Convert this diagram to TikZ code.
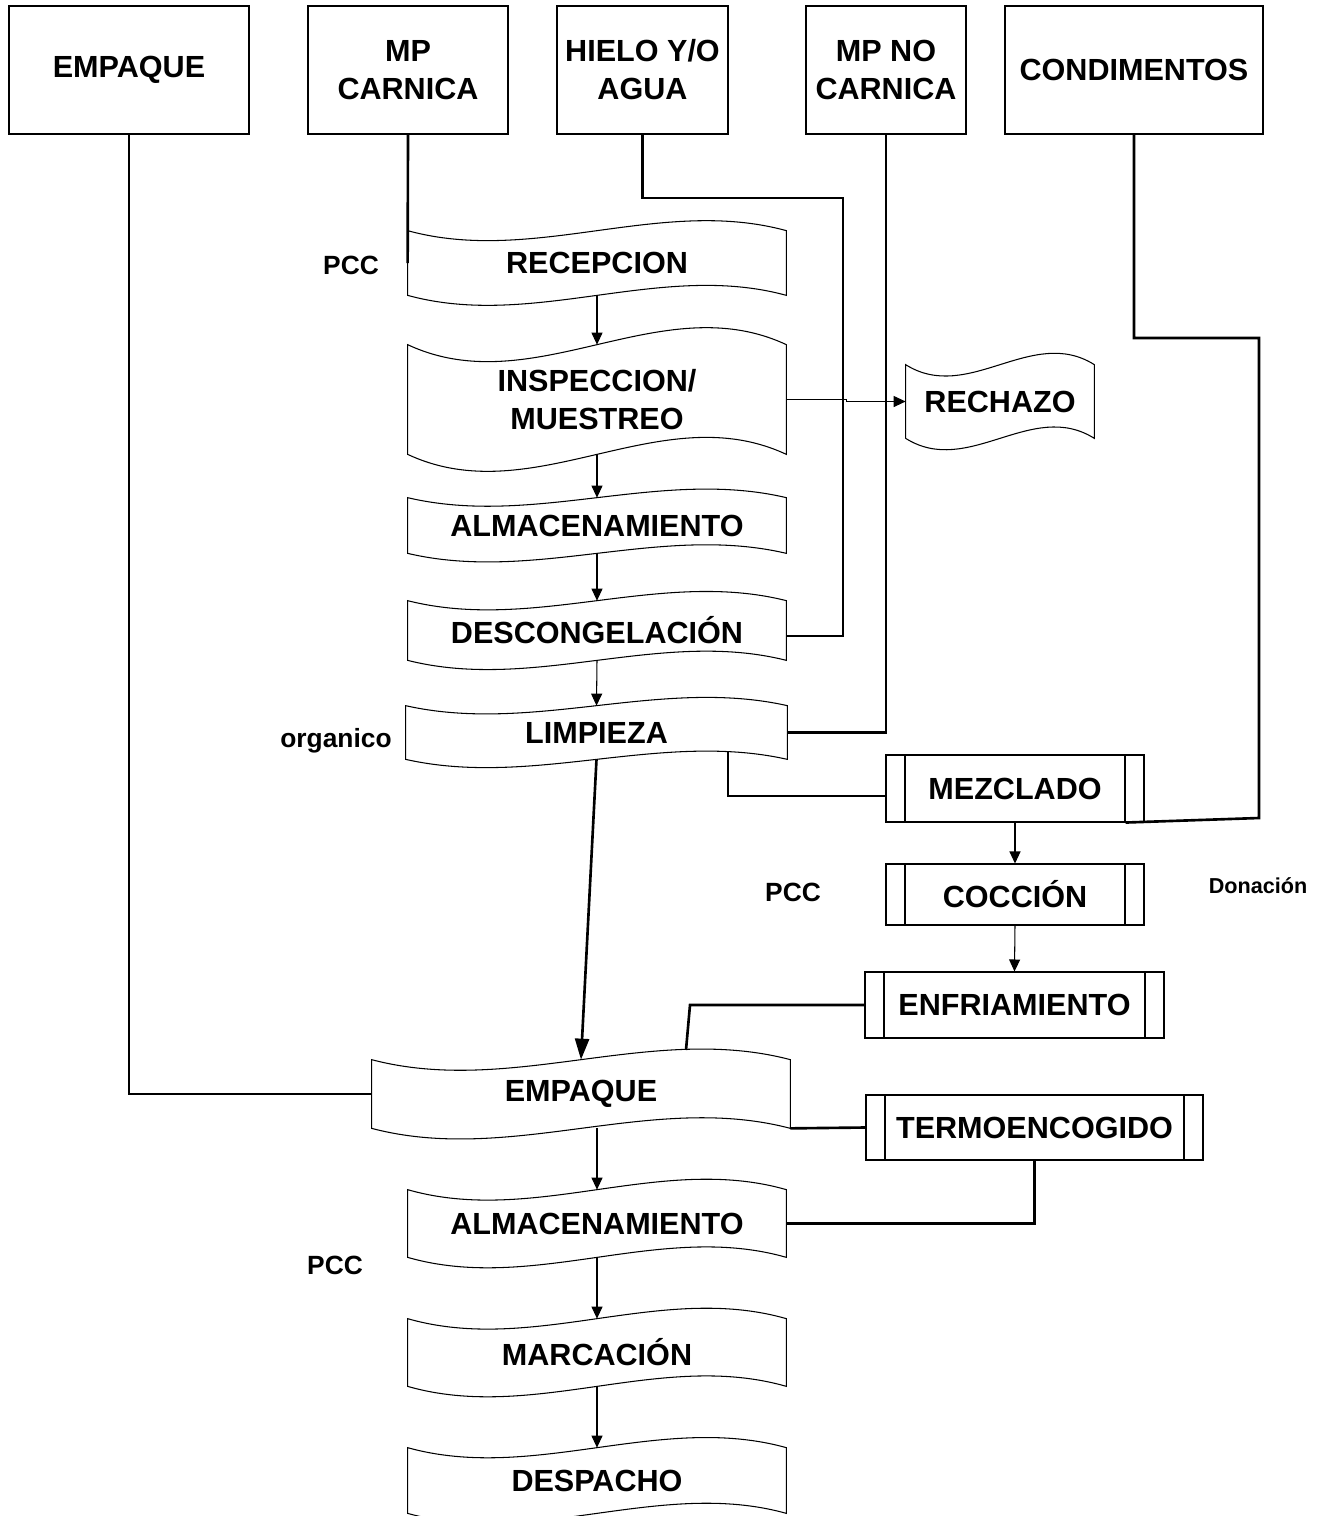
\documentclass[tikz,border=0pt]{standalone}
\usepackage{fontspec}
\setmainfont{Liberation Sans}
\usetikzlibrary{arrows.meta,calc}
\tikzset{
  big/.style={font=\bfseries\fontsize{17.4}{21.6}\selectfont, align=center, inner sep=0pt},
  small/.style={font=\bfseries\fontsize{15}{18}\selectfont, inner sep=0pt},
  tiny/.style={font=\bfseries\fontsize{12.3}{15}\selectfont, inner sep=0pt},
  topbox/.style={big, draw, line width=0.8pt, minimum height=2.56cm},
  tapetxt/.style={big},
  procbox/.style={big, draw, line width=0.6pt},
  outl/.style={line width=0.6pt},
  conn/.style={line width=1.5pt},
  thinarr/.style={line width=0.6pt, -{Triangle[length=0.24cm,width=0.22cm]}},
  thickarr/.style={line width=1.5pt, -{Triangle[length=0.42cm,width=0.28cm]}},
}
\newcommand{\tapenode}[6]{%
  \node[tapetxt, minimum width={(#4-#2)*0.02cm}, minimum height={(#5-#3)*0.02cm}] (#1) at ({(#2+#4)/2},{(#3+#5)/2}) {#6};
  \draw[outl] (#1.north west) .. controls +({(#4-#2)/3},{0.54*(#5-#3)}) and +({-(#4-#2)/3},{-0.54*(#5-#3)}) .. (#1.north east)
     -- (#1.south east) .. controls +({-(#4-#2)/3},{-0.54*(#5-#3)}) and +({(#4-#2)/3},{0.54*(#5-#3)}) .. (#1.south west) -- cycle;
}
\newcommand{\procnode}[6]{%
  \node[procbox, minimum width={(#4-#2)*0.02cm}, minimum height={(#5-#3)*0.02cm}] (#1) at ({(#2+#4)/2},{(#3+#5)/2}) {#6};
  \draw[outl] ({#2+19},#3) -- ({#2+19},#5);
  \draw[outl] ({#4-19},#3) -- ({#4-19},#5);
}
\begin{document}
\begin{tikzpicture}[x=0.02cm,y=-0.02cm]
\fill[white] (0,0) rectangle (1327,1516);
\useasboundingbox (0,0) rectangle (1327,1516);

% top boxes
\node[topbox, minimum width=4.8cm] (b1) at (129,70) {EMPAQUE};
\node[topbox, minimum width=4.0cm] (b2) at (408,70) {MP\\CARNICA};
\node[topbox, minimum width=3.42cm] (b3) at (642.5,70) {HIELO Y/O\\AGUA};
\node[topbox, minimum width=3.2cm] (b4) at (886,70) {MP NO\\CARNICA};
\node[topbox, minimum width=5.16cm] (b5) at (1134,70) {CONDIMENTOS};

% tape shapes
\tapenode{rec}{408}{231}{786}{295}{RECEPCION}
\tapenode{insp}{408}{345}{786}{454}{INSPECCION/\\MUESTREO}
\tapenode{rech}{906}{365}{1094}{438}{RECHAZO}
\tapenode{alma}{408}{498}{786}{553}{ALMACENAMIENTO}
\tapenode{desc}{408}{601}{786}{660}{DESCONGELACIÓN}
\tapenode{lim}{406}{706}{787}{759}{LIMPIEZA}
\tapenode{emp}{372}{1060}{790}{1128}{EMPAQUE}
\tapenode{almb}{408}{1190}{786}{1257}{ALMACENAMIENTO}
\tapenode{mar}{408}{1319}{786}{1386}{MARCACIÓN}
\tapenode{des}{408}{1448}{786}{1513}{DESPACHO}

% predefined process boxes
\procnode{mez}{886}{755}{1144}{822}{MEZCLADO}
\procnode{coc}{886}{864}{1144}{925}{COCCIÓN}
\procnode{enf}{865}{972}{1164}{1038}{ENFRIAMIENTO}
\procnode{ter}{866}{1095}{1203}{1160}{TERMOENCOGIDO}

% labels
\node[small] (pcc1) at (351,265) {PCC};
\node[small] (org) at (336,741) {organico};
\node[small] (pcc2) at (793,892) {PCC};
\node[tiny] (don) at (1258,886) {Donación};
\node[small] (pcc3) at (335,1265) {PCC};

% helper coordinates
\coordinate (h1) at (843,198);
\coordinate (c1) at (1259,338);
\coordinate (c2) at (1259,818);
\coordinate (l1) at (728,752);
\coordinate (e1) at (690,1005);
\coordinate (e2) at (686,1050);

% thick connectors
\draw[conn] (b1.south) |- (emp.west);
\draw[conn] (b2.south) -- (rec.west);
\draw[conn] (b3.south) |- (h1) |- ([yshift=-0.11cm]desc.east);
\draw[conn] (b4.south) |- (lim.east);
\draw[conn] (b5.south) |- (c1) -- (c2) -- ([xshift=-0.38cm]mez.south east);
\draw[conn] (l1) |- ([yshift=-0.15cm]mez.west);
\draw[conn] (enf.west) -- (e1) -- (e2);
\draw[conn] (emp.south east) -- (ter.west);
\draw[conn] (ter.south) |- (almb.east);
\draw[thickarr] (lim.south) -- (emp.north);

% thin arrows
\draw[thinarr] (rec.south) -- (insp.north);
\draw[thinarr] (insp.east) -- ++(60,0) |- (rech.west);
\draw[thinarr] (insp.south) -- (alma.north);
\draw[thinarr] (alma.south) -- (desc.north);
\draw[thinarr] (desc.south) -- (lim.north);
\draw[thinarr] (mez.south) -- (coc.north);
\draw[thinarr] (coc.south) -- (enf.north);
\draw[thinarr] (emp.south -| almb.north) -- (almb.north);
\draw[thinarr] (almb.south) -- (mar.north);
\draw[thinarr] (mar.south) -- (des.north);
\end{tikzpicture}
\end{document}
